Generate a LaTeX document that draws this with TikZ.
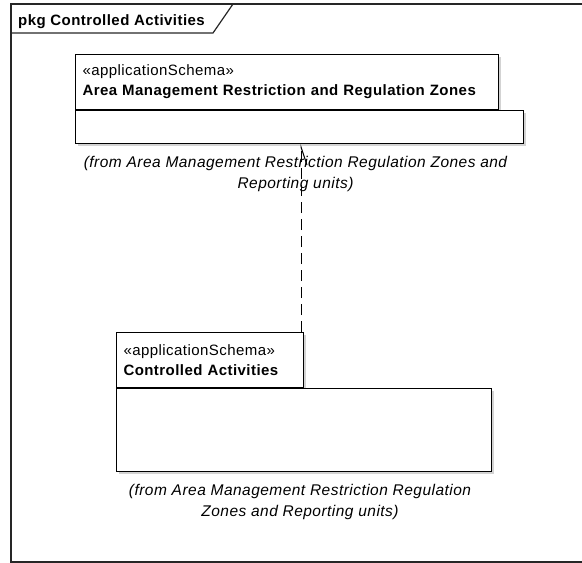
\documentclass[tikz,border=0pt]{standalone}
\usepackage{fontspec}
\setmainfont{Liberation Sans}[LetterSpace=3]
\usetikzlibrary{positioning}
\usetikzlibrary{shadows}
\usetikzlibrary{arrows.meta}
\usetikzlibrary{calc}

\tikzset{
  frameline/.style={line width=1.2pt, draw=black!85},
  pkgtab/.style={draw, fill=white, line width=1pt, anchor=north west,
    align=left, inner xsep=7pt, inner ysep=0pt, minimum height=55pt,
    font=\fontsize{15pt}{20pt}\selectfont,
    drop shadow={shadow xshift=2.5pt, shadow yshift=-2.5pt, opacity=0.35}},
  pkgbody/.style={draw, fill=white, line width=1pt, anchor=north west,
    inner sep=0pt,
    drop shadow={shadow xshift=2.5pt, shadow yshift=-2.5pt, opacity=0.35}},
  fromnote/.style={align=center, inner sep=0pt,
    font=\fontsize{15.5pt}{21pt}\selectfont\itshape},
  dep/.style={line width=1pt, dash pattern=on 11pt off 6pt,
    -{Straight Barb[right, length=18pt, width=12pt]}}
}

\begin{document}
\begin{tikzpicture}[x=1pt, y=-1pt]
        \useasboundingbox (0,0) rectangle (582,563);

        % frame of the diagram
        \draw[frameline] (590,4) -- (11,4) -- (11,562) -- (590,562);
        \draw[frameline] (11,33) -- (213,33) -- (233,4);
        \node[anchor=base west, inner sep=0pt, font=\fontsize{15pt}{20pt}\selectfont\bfseries] (pkgTitle) at (18,25) {pkg Controlled Activities};

        % upper package
        \node[pkgtab, text width=409pt] (arzTab) at (75,54) {«applicationSchema»\\\textbf{Area Management Restriction and Regulation Zones}};
        \node[pkgbody, minimum width=448pt, minimum height=33pt] (arzBody) at (arzTab.south west) {};
        \node[fromnote, below=12pt of arzBody, xshift=-4pt] (arzFrom) {(from Area Management Restriction Regulation Zones and\\Reporting units)};

        % lower package
        \node[pkgtab, text width=173pt] (caTab) at (116,332) {«applicationSchema»\\\textbf{Controlled Activities}};
        \node[pkgbody, minimum width=375pt, minimum height=83pt] (caBody) at (caTab.south west) {};
        \node[fromnote, below=12pt of caBody, xshift=-4pt] (caFrom) {(from Area Management Restriction Regulation\\Zones and Reporting units)};

        % dependency
        \draw[dep] ([xshift=-3pt]caTab.north east) -- ([xshift=-3pt]caTab.north east |- arzBody.south);
\end{tikzpicture}
\end{document}
